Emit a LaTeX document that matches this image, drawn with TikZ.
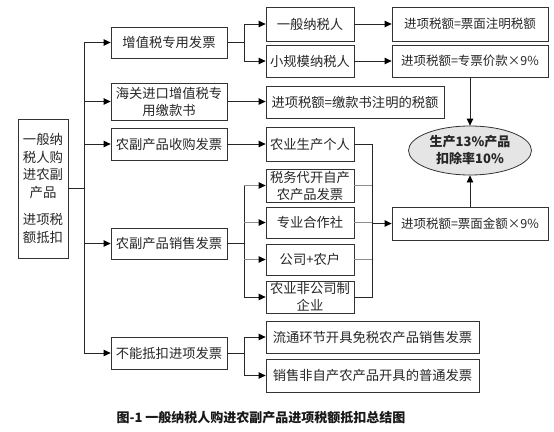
\documentclass[tikz,border=0pt]{standalone}
\usepackage{fontspec}
\setmainfont{Noto Sans CJK SC}
\usetikzlibrary{shapes.geometric,arrows.meta}
\tikzset{
  bx/.style={draw=black!80, line width=0.8pt, inner sep=0pt, align=center, text=black!85,
    font=\fontsize{13.3}{17}\selectfont},
  cbx/.style={bx, font=\fontsize{12.5}{17}\selectfont},
  ln/.style={line width=0.8pt, draw=black!85},
  gln/.style={line width=0.8pt, draw=black!45},
  arr/.style={ln, -{Triangle[length=7pt,width=6.5pt,color=black]}},
  garr/.style={gln, -{Triangle[length=7pt,width=6.5pt,color=black]}},
}
\begin{document}
\begin{tikzpicture}[x=1pt,y=-1pt]
\useasboundingbox (0,0) rectangle (554,431);
% left
\node[bx, minimum width=50pt, minimum height=139pt, font=\fontsize{13.4}{17.5}\selectfont] (L) at (43,188.5)
  {一般纳\\税人购\\进农副\\产品\\[10pt]进项税\\额抵扣};
% column A
\node[bx, minimum width=116pt, minimum height=31pt] (A1) at (169,42.5) {增值税专用发票};
\node[bx, minimum width=116pt, minimum height=37pt] (A2) at (169,101.5) {海关进口增值税专\\用缴款书};
\node[bx, minimum width=116pt, minimum height=32pt] (A3) at (169,144) {农副产品收购发票};
\node[bx, minimum width=116pt, minimum height=31pt] (A4) at (169,243.5) {农副产品销售发票};
\node[bx, minimum width=116pt, minimum height=32pt] (A5) at (169,353) {不能抵扣进项发票};
% column B
\node[bx, minimum width=88pt, minimum height=34pt] (B1) at (310,24) {一般纳税人};
\node[bx, minimum width=88pt, minimum height=32pt] (B2) at (310,61) {小规模纳税人};
\node[bx, minimum width=178pt, minimum height=32pt] (B3) at (355,102) {进项税额=缴款书注明的税额};
\node[bx, minimum width=88pt, minimum height=34pt] (B4) at (310,144) {农业生产个人};
\node[bx, minimum width=88pt, minimum height=33pt] (B5) at (310,185.5) {税务代开自产\\农产品发票};
\node[bx, minimum width=88pt, minimum height=31pt] (B6) at (310,222.5) {专业合作社};
\node[bx, minimum width=88pt, minimum height=31pt] (B7) at (310,259.5) {公司+农户};
\node[bx, minimum width=88pt, minimum height=32pt] (B8) at (310,297) {农业非公司制\\企业};
\node[bx, minimum width=213pt, minimum height=32pt] (B9) at (372.5,337) {流通环节开具免税农产品销售发票};
\node[bx, minimum width=213pt, minimum height=33pt] (B10) at (372.5,375.5) {销售非自产农产品开具的普通发票};
% column C
\node[cbx, minimum width=156pt, minimum height=34pt] (C1) at (470,24) {进项税额=票面注明税额};
\node[cbx, minimum width=156pt, minimum height=32pt] (C2) at (470,61) {进项税额=专票价款×9\%};
\node[cbx, minimum width=156pt, minimum height=33pt] (C3) at (470,223.5) {进项税额=票面金额×9\%};
\node[bx, ellipse, fill=black!10, minimum width=123pt, minimum height=49pt, font=\bfseries\fontsize{13}{17}\selectfont] (E) at (470,150.5) {生产13\%产品\\扣除率10\%};
% caption
\node[font=\bfseries\fontsize{13}{15}\selectfont, text=black!90] (cap) at (261,418) {图-1 一般纳税人购进农副产品进项税额抵扣总结图};
% coordinates for vertical rails
\coordinate (tr) at (84,0);
\coordinate (br) at (244,0);
\coordinate (cl) at (372,0);
% trunk
\draw[ln] (A1.west -| tr) -- (A5.west -| tr);
\draw[ln] (L.east) -- (L.east -| tr);
\foreach \n in {A1,A2,A3,A4,A5} \draw[arr] (\n.west -| tr) -- (\n.west);
% A1 branch
\draw[ln] (A1.east) -- (A1.east -| br);
\draw[ln] (B1.west -| br) -- (B2.west -| br);
\draw[arr] (B1.west -| br) -- (B1.west);
\draw[arr] (B2.west -| br) -- (B2.west);
\draw[arr] (B1.east) -- (C1.west);
\draw[arr] (B2.east) -- (C2.west);
% A2, A3
\draw[arr] (A2.east) -- (A2.east -| B3.west);
\draw[arr] (A3.east) -- (B4.west);
% A4 branch
\draw[ln] (A4.east) -- (A4.east -| br);
\draw[ln] (B5.west -| br) -- (B8.west -| br);
\draw[garr] (B5.west -| br) -- (B5.west);
\draw[garr] (B6.west -| br) -- (B6.west);
\draw[garr] (B7.west -| br) -- (B7.west);
\draw[arr] (B8.west -| br) -- (B8.west);
% collector
\draw[ln] (B4.east) -- (B4.east -| cl) -- (B8.east -| cl) -- (B8.east);
\draw[gln] (B5.east) -- (B5.east -| cl);
\draw[gln] (B6.east) -- (B6.east -| cl);
\draw[gln] (B7.east) -- (B7.east -| cl);
\draw[arr] (C3.west -| cl) -- (C3.west);
% to ellipse
\draw[arr] (C2.south) -- (E.north);
\draw[arr] (C3.north) -- (E.south);
% A5 branch
\draw[ln] (A5.east) -- (A5.east -| br);
\draw[ln] (B9.west -| br) -- (B10.west -| br);
\draw[arr] (B9.west -| br) -- (B9.west);
\draw[arr] (B10.west -| br) -- (B10.west);
\end{tikzpicture}
\end{document}
